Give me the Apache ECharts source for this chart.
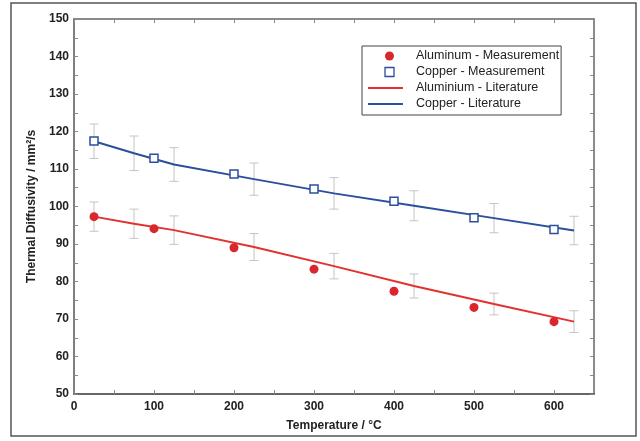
<!DOCTYPE html>
<html>
<head>
<meta charset="utf-8">
<script src="https://cdn.jsdelivr.net/npm/echarts@6/dist/echarts.min.js"></script>
<style>
html,body{margin:0;padding:0;background:#fff;}
#c{width:640px;height:441px;}
</style>
</head>
<body>
<div id="c"></div>
<script>
// Measurement temperatures and values
var measTemps = [25, 100, 200, 300, 400, 500, 600];
var alMeas = [97.3, 94.1, 89.0, 83.3, 77.4, 73.1, 69.3];
var cuMeas = [117.5, 112.9, 108.7, 104.7, 101.4, 97.0, 93.9];
// Literature curves
var litTemps = [25, 75, 125, 225, 325, 425, 525, 625];
var alLit = [97.3, 95.4, 93.7, 89.2, 84.1, 78.8, 74.0, 69.3];
var cuLit = [117.4, 114.2, 111.2, 107.3, 103.5, 100.2, 96.9, 93.6];
// Error bar half-widths
var alErr = [3.9, 3.9, 3.8, 3.6, 3.4, 3.2, 2.9, 2.9];
var cuErr = [4.6, 4.6, 4.5, 4.3, 4.2, 4.0, 3.9, 3.8];
// Tick labels
var xTickLabels = [0, 100, 200, 300, 400, 500, 600];
var yTickLabels = [50, 60, 70, 80, 90, 100, 110, 120, 130, 140, 150];

var RED = '#d9282d';
var BLUE = '#2b4f9c';
var ERR = '#c4c4c4';

function pairs(xs, ys) { return xs.map(function (x, i) { return [x, ys[i]]; }); }
function errData(xs, ys, es) { return xs.map(function (x, i) { return [x, ys[i] - es[i], ys[i] + es[i]]; }); }

function errRender(params, api) {
  var x = api.value(0);
  var lo = api.coord([x, api.value(1)]);
  var hi = api.coord([x, api.value(2)]);
  var w = 4.5;
  var st = { stroke: ERR, lineWidth: 1 };
  return {
    type: 'group',
    children: [
      { type: 'line', shape: { x1: lo[0], y1: lo[1], x2: hi[0], y2: hi[1] }, style: st },
      { type: 'line', shape: { x1: lo[0] - w, y1: lo[1], x2: lo[0] + w, y2: lo[1] }, style: st },
      { type: 'line', shape: { x1: hi[0] - w, y1: hi[1], x2: hi[0] + w, y2: hi[1] }, style: st }
    ]
  };
}

var FONT = '"Liberation Sans", Arial, sans-serif';
function tick() { return { show: true, inside: true, length: 4, lineStyle: { color: '#888', width: 1 } }; }
function aline(w, c) { return { onZero: false, lineStyle: { color: c, width: w } }; }

// line icon with an invisible end point so the icon box is wider than the drawn line
var LINE_ICON = 'path://M0,0H35V2H0Z M43,1L43,1Z';
var SQ_ICON = 'path://M0,0H10V10H0Z';

var chart = echarts.init(document.getElementById('c'), null, { renderer: 'canvas' });
chart.setOption({
  backgroundColor: '#fff',
  animation: false,
  grid: { left: 74, right: 46, top: 19, bottom: 47 },
  graphic: [{
    type: 'rect', z: 100, silent: true,
    shape: { x: 11, y: 3, width: 625, height: 433 },
    style: { fill: 'none', stroke: '#555', lineWidth: 1.5 }
  }],
  legend: {
    orient: 'vertical',
    left: 362, top: 46,
    padding: [3, 2, 4, 6],
    borderColor: '#444', borderWidth: 1,
    backgroundColor: '#fff',
    itemWidth: 43, itemHeight: 9, itemGap: 2,
    textStyle: { fontFamily: FONT, fontSize: 12.5, color: '#222', lineHeight: 14 },
    data: [
      { name: 'Aluminum - Measurement', icon: 'circle', itemStyle: { color: RED } },
      { name: 'Copper - Measurement', icon: SQ_ICON, itemStyle: { color: '#fff', borderColor: BLUE, borderWidth: 1.3 } },
      { name: 'Aluminium - Literature', icon: LINE_ICON, itemStyle: { color: '#e2322f', borderWidth: 0 } },
      { name: 'Copper - Literature', icon: LINE_ICON, itemStyle: { color: BLUE, borderWidth: 0 } }
    ]
  },
  xAxis: [
    {
      type: 'value', min: 0, max: 650, interval: 50, position: 'bottom',
      axisTick: tick(), splitLine: { show: false },
      axisLine: aline(2, '#666'),
      axisLabel: {
        margin: 7, fontFamily: FONT, fontWeight: 'bold', fontSize: 12, color: '#222',
        showMaxLabel: false,
        formatter: function (v) { return xTickLabels.indexOf(v) >= 0 ? String(v) : ''; }
      },
      name: 'Temperature / °C', nameLocation: 'middle', nameGap: 26,
      nameTextStyle: { fontFamily: FONT, fontWeight: 'bold', fontSize: 12, color: '#222' }
    },
    {
      type: 'value', min: 0, max: 650, interval: 50, position: 'top',
      axisTick: tick(), splitLine: { show: false },
      axisLine: aline(1.5, '#666'),
      axisLabel: { show: false }
    }
  ],
  yAxis: [
    {
      type: 'value', min: 50, max: 150, interval: 5, position: 'left',
      axisTick: tick(), splitLine: { show: false },
      axisLine: aline(1.5, '#555'),
      axisLabel: {
        margin: 5, fontFamily: FONT, fontWeight: 'bold', fontSize: 12, color: '#222',
        formatter: function (v) { return yTickLabels.indexOf(v) >= 0 ? String(v) : ''; }
      },
      name: 'Thermal Diffusivity / mm²/s', nameLocation: 'middle', nameGap: 32,
      nameTextStyle: { fontFamily: FONT, fontWeight: 'bold', fontSize: 12, color: '#222' }
    },
    {
      type: 'value', min: 50, max: 150, interval: 5, position: 'right',
      axisTick: tick(), splitLine: { show: false },
      axisLine: aline(1.5, '#666'),
      axisLabel: { show: false }
    }
  ],
  series: [
    { name: 'cuErr', type: 'custom', renderItem: errRender, data: errData(litTemps, cuLit, cuErr), z: 1, silent: true },
    { name: 'alErr', type: 'custom', renderItem: errRender, data: errData(litTemps, alLit, alErr), z: 1, silent: true },
    { name: 'Aluminium - Literature', type: 'line', data: pairs(litTemps, alLit), symbol: 'none',
      lineStyle: { color: '#e2322f', width: 2 }, itemStyle: { color: '#e2322f' }, z: 2 },
    { name: 'Copper - Literature', type: 'line', data: pairs(litTemps, cuLit), symbol: 'none',
      lineStyle: { color: BLUE, width: 2 }, itemStyle: { color: BLUE }, z: 2 },
    { name: 'Aluminum - Measurement', type: 'scatter', data: pairs(measTemps, alMeas), symbol: 'circle', symbolSize: 9,
      itemStyle: { color: RED, opacity: 1 }, z: 3 },
    { name: 'Copper - Measurement', type: 'scatter', data: pairs(measTemps, cuMeas), symbol: 'rect', symbolSize: 8,
      itemStyle: { color: '#fff', borderColor: BLUE, borderWidth: 1.5, opacity: 1 }, z: 3 }
  ]
});
</script>
</body>
</html>
